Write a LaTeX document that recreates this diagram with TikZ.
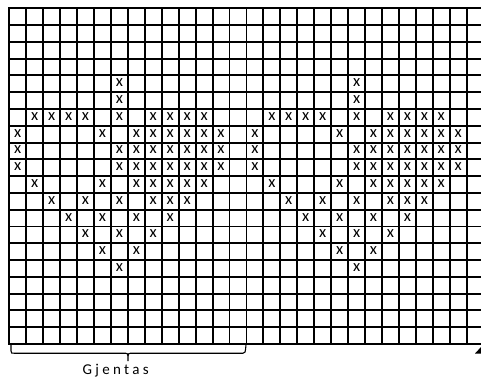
\documentclass[tikz,border=0pt]{standalone}
\usepackage{fontspec}
\setmainfont{Carlito}
\newfontfamily\labelfont[LetterSpace=22]{Carlito}
\begin{document}
\begin{tikzpicture}[x=1pt,y=-1pt,
  gridline/.style={line width=1.9pt,black},
  bracestyle/.style={line width=1.1pt,black},
  xmark/.style={inner sep=0pt,font=\fontsize{16.5}{16.5}\selectfont},
  labeltext/.style={inner sep=0pt,anchor=base west,font=\labelfont\fontsize{15}{15}\selectfont}]
\useasboundingbox (0,0) rectangle (481,378);
\fill[white] (0,0) rectangle (481,378);
\def\gx{9.3}\def\gy{8.3}\def\dx{16.94}\def\dy{16.785}
% vertical lines
\foreach \k in {0,...,27}
  \draw[gridline] ({\gx+\k*\dx},{\gy}) -- ({\gx+\k*\dx},{\gy+20*\dy});
% horizontal lines
\foreach \r in {0,...,20}
  \draw[gridline] ({\gx-0.95},{\gy+\r*\dy}) -- (490,{\gy+\r*\dy});
% x marks
\foreach \r/\cols in {4/{6},5/{6},6/{1,2,3,4,6,8,9,10,11},7/{0,5,7,8,9,10,11,12},
  8/{0,6,7,8,9,10,11,12},9/{0,6,7,8,9,10,11,12},10/{1,5,7,8,9,10,11},
  11/{2,4,6,8,9,10},12/{3,5,7,9},13/{4,6,8},14/{5,7},15/{6}}
  \foreach \c in \cols {
    \node[xmark] (xa-\r-\c) at ({\gx+(\c+0.5)*\dx},{\gy+(\r+0.5)*\dy-1}) {x};
    \node[xmark] (xb-\r-\c) at ({\gx+(\c+14.5)*\dx},{\gy+(\r+0.5)*\dy-1}) {x};
  }
% brace
\coordinate (bl) at (11,344.5);
\coordinate (br) at (246,344.5);
\coordinate (bt) at (128,361);
\draw[bracestyle] (bl) -- ++(0,6.5) .. controls +(0,2.5) and +(-2,0) .. (14,353.2)
  -- (125.5,353.2) .. controls (127.3,353.2) and (128,354) .. (128,356) -- (bt);
\draw[bracestyle] (128,356) .. controls (128,354) and (128.7,353.2) .. (130.5,353.2)
  -- (243,353.2) .. controls +(2,0) and +(0,2.5) .. (245.6,349) -- (br);
\node[labeltext] (lbl) at (82.5,374) {Gjentas};
% clipped start of next brace
\fill[black] (475,353.5) -- (481.5,353.5) -- (481.5,346.5) -- cycle;
\end{tikzpicture}
\end{document}
